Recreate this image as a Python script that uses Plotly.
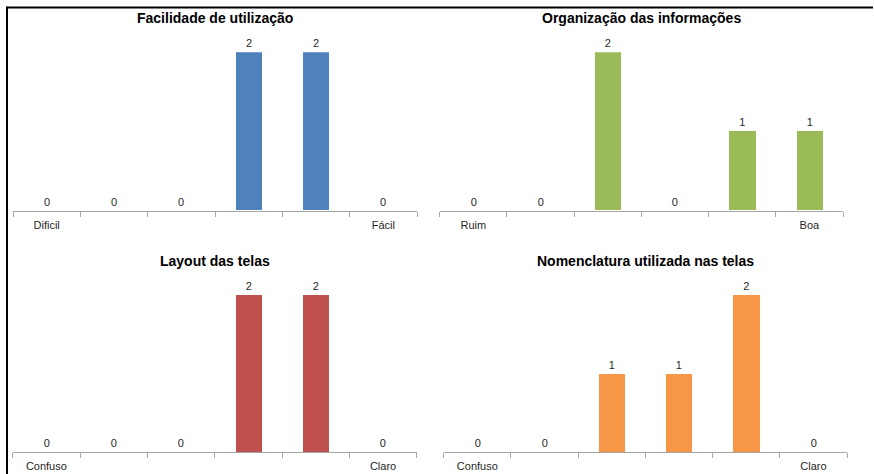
import plotly.graph_objects as go

# Survey answers: six-point scale, counts per point
positions = [1, 2, 3, 4, 5, 6]

titles = [
    "Facilidade de utilização",
    "Organização das informações",
    "Layout das telas",
    "Nomenclatura utilizada nas telas",
]
end_labels = [
    ["Dificil", "Fácil"],
    ["Ruim", "Boa"],
    ["Confuso", "Claro"],
    ["Confuso", "Claro"],
]
facilidade = [0, 0, 0, 2, 2, 0]
organizacao = [0, 0, 2, 0, 1, 1]
layout_telas = [0, 0, 0, 2, 2, 0]
nomenclatura = [0, 0, 1, 1, 2, 0]
series = [facilidade, organizacao, layout_telas, nomenclatura]
colors = ["#4F81BD", "#9BBB59", "#C0504D", "#F79646"]

W, H = 874, 474
FONT = "Liberation Sans, Arial, sans-serif"
TEXT = "#1F1F1F"

# panel geometry in pixels: (left, right, baseline, top of value 2)
panels = [
    (13, 417, 210.7, 52.3),
    (439.7, 843, 210.7, 52.3),
    (12.7, 416.7, 452, 295),
    (443.7, 847, 452, 295),
]

fig = go.Figure()
annotations = []
for i, (vals, col) in enumerate(zip(series, colors)):
    n = "" if i == 0 else str(i + 1)
    left, right, base, top = panels[i]
    label_font = dict(family=FONT, size=11, color=TEXT)
    fig.add_trace(go.Bar(
        x=positions, y=vals, xaxis="x" + n, yaxis="y" + n,
        marker=dict(color=col, line=dict(width=0)),
        width=0.39,
        text=[str(v) for v in vals], textposition="outside",
        textfont=label_font, outsidetextfont=label_font,
        cliponaxis=False, showlegend=False, hoverinfo="skip",
    ))
    fig.layout["xaxis" + n] = dict(
        domain=[left / W, right / W], range=[0.5, 6.5], anchor="y" + n,
        showgrid=False, zeroline=False, showline=True, linecolor="#A6A6A6",
        linewidth=1, ticks="", tickmode="array", tickvals=[1, 6],
        ticktext=end_labels[i], ticklabelstandoff=4,
        tickfont=dict(family=FONT, size=11, color=TEXT),
        minor=dict(tickmode="array", tickvals=[0.5, 1.5, 2.5, 3.5, 4.5, 5.5, 6.5],
                   ticks="outside", ticklen=5, tickcolor="#A6A6A6", showgrid=False),
        fixedrange=True,
    )
    fig.layout["yaxis" + n] = dict(
        domain=[1 - base / H, 1 - top / H], range=[0, 2], anchor="x" + n,
        visible=False, fixedrange=True,
    )
    title_y = 18 if i < 2 else 260.7
    annotations.append(dict(
        text="<b>" + titles[i] + "</b>", xref="paper", yref="paper",
        x=(left + right) / 2 / W, y=1 - title_y / H, xanchor="center", yanchor="middle",
        showarrow=False, font=dict(family=FONT, size=14, color="#000000"),
    ))

# frame along the top and left edge
shapes = [
    dict(type="line", xref="paper", yref="paper", x0=7 / W, x1=873 / W,
         y0=1 - 7.5 / H, y1=1 - 7.5 / H, line=dict(color="#000000", width=2)),
    dict(type="line", xref="paper", yref="paper", x0=7 / W, x1=7 / W,
         y0=0, y1=1 - 6.5 / H, line=dict(color="#000000", width=2)),
]

fig.update_layout(
    width=W, height=H, margin=dict(l=0, r=0, t=0, b=0),
    paper_bgcolor="white", plot_bgcolor="white",
    annotations=annotations, shapes=shapes, bargap=0,
)
fig.write_html("out.html")
